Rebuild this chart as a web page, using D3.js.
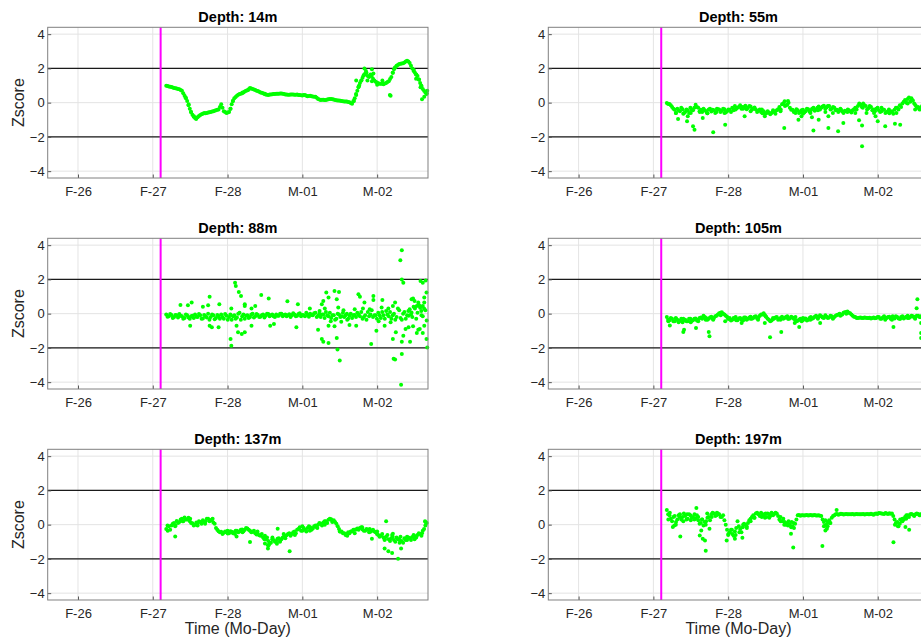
<!DOCTYPE html>
<html>
<head>
<meta charset="utf-8">
<script src="https://cdn.jsdelivr.net/npm/d3@7"></script>
<style>
  body { margin: 0; background: #fff; }
  text { font-family: "Liberation Sans", Arial, sans-serif; }
</style>
</head>
<body>
<div id="main"></div>
<script>
const W = 921, H = 644;

// x axis: days after F-26
const tickDays = [0, 1, 2, 3, 4];
const tickLabels = ['F-26', 'F-27', 'F-28', 'M-01', 'M-02'];
const yTicks = [-4, -2, 0, 2, 4];
const limits = [-2, 2];
const eventDay = 1.105;

// regular sampling of each record; "b" arrays are the samples in between
const t0 = 1.18, dt = 0.035;

const z14 = [0.98,0.95,0.92,0.86,0.82,0.78,0.7,0.4,0.1,-0.35,
  -0.7,-0.9,-0.85,-0.72,-0.65,-0.62,-0.58,-0.55,-0.5,-0.45,
  -0.4,-0.1,-0.5,-0.6,-0.55,-0.1,0.25,0.4,0.5,0.55,
  0.65,0.72,0.85,0.8,0.74,0.68,0.6,0.55,0.48,0.45,
  0.48,0.5,0.52,0.52,0.54,0.5,0.47,0.46,0.48,0.46,
  0.47,0.44,0.42,0.45,0.38,0.4,0.36,0.35,0.22,0.16,
  0.17,0.15,0.2,0.22,0.18,0.14,0.12,0.1,0.07,0.06,
  0.03,-0.06,0.25,0.7,1.15,1.45,1.7,1.55,1.65,1.4,
  1.22,1.13,1.1,1.08,1.15,1.25,1.5,1.95,2.15,2.25,
  2.28,2.35,2.45,2.32,2.0,1.75,1.55,1.15,0.8,0.6];
const z14b = [0.97,0.93,0.88,0.84,0.8,0.74,0.55,0.25,-0.15,-0.55,
  -0.82,-0.88,-0.78,-0.68,-0.6,-0.6,-0.56,-0.52,-0.48,-0.42,
  -0.25,-0.3,-0.55,-0.58,-0.35,0.1,0.33,0.46,0.52,0.6,
  0.7,0.78,0.82,0.77,0.7,0.64,0.58,0.5,0.46,0.47,
  0.49,0.51,0.52,0.53,0.52,0.48,0.46,0.47,0.47,0.46,
  0.45,0.43,0.44,0.41,0.39,0.38,0.35,0.28,0.18,0.17,
  0.16,0.18,0.21,0.2,0.16,0.13,0.11,0.08,0.06,0.04,
  -0.02,0.1,0.5,0.95,1.3,1.6,1.75,1.5,1.55,1.3,
  1.18,1.1,1.1,1.12,1.2,1.38,1.75,2.05,2.2,2.27,
  2.3,2.4,2.4,2.15,1.85,1.65,1.35,0.95,0.7,0.55];
const e14 = [[1.44,0.3],[1.48,-0.1],[1.51,-0.55],[1.55,-0.8],[1.58,-0.95],[2.04,-0.35],[2.07,0.1],
  [2.28,0.75],[2.2,0.6],[2.5,0.52],[3.69,0.1],[3.72,0.45],[3.72,1.3],[3.75,0.9],[3.76,1.0],[3.79,1.3],
  [3.82,1.6],[3.83,2.0],[3.85,1.85],[3.87,1.3],[3.93,1.95],[3.93,1.25],[3.95,1.7],[4.0,1.05],
  [4.07,1.3],[4.17,0.45],[4.18,0.4],[4.21,1.75],[4.24,2.05],[4.49,1.9],[4.52,1.4],[4.52,1.65],
  [4.56,1.35],[4.58,0.9],[4.59,1.0],[4.6,0.2],[4.63,0.35],[4.66,0.5],[4.67,0.7]];

const z55 = [-0.02,-0.08,-0.25,-0.42,-0.35,-0.5,-0.38,-0.55,-0.45,-0.3,
  -0.45,-0.12,-0.3,-0.42,-0.35,-0.5,-0.4,-0.52,-0.45,-0.55,
  -0.4,-0.48,-0.38,-0.5,-0.42,-0.3,-0.2,-0.3,-0.15,-0.25,
  -0.18,-0.3,-0.22,-0.35,-0.4,-0.48,-0.55,-0.5,-0.62,-0.58,
  -0.6,-0.52,-0.45,-0.25,-0.1,0.08,-0.12,-0.3,-0.42,-0.5,
  -0.45,-0.55,-0.42,-0.5,-0.38,-0.45,-0.3,-0.4,-0.22,-0.3,
  -0.18,-0.28,-0.2,-0.35,-0.3,-0.42,-0.45,-0.52,-0.48,-0.55,
  -0.5,-0.45,-0.3,-0.2,-0.12,-0.05,-0.2,-0.32,-0.25,-0.4,
  -0.35,-0.45,-0.5,-0.42,-0.55,-0.62,-0.5,-0.42,-0.3,-0.15,
  -0.05,0.15,0.22,0.05,0.12,-0.15,-0.25,-0.3,-0.35,-0.3];
const z55b = [-0.08,-0.15,-0.35,-0.6,-0.45,-0.3,-0.62,-0.4,-0.6,-0.42,
  -0.3,-0.25,-0.5,-0.55,-0.45,-0.62,-0.35,-0.42,-0.6,-0.38,
  -0.55,-0.35,-0.58,-0.4,-0.55,-0.45,-0.32,-0.25,-0.35,-0.28,
  -0.38,-0.2,-0.4,-0.28,-0.55,-0.4,-0.62,-0.65,-0.5,-0.68,
  -0.55,-0.65,-0.38,-0.4,-0.05,-0.15,0.0,-0.42,-0.55,-0.38,
  -0.6,-0.45,-0.58,-0.35,-0.52,-0.35,-0.48,-0.3,-0.4,-0.22,
  -0.35,-0.2,-0.4,-0.25,-0.45,-0.55,-0.4,-0.6,-0.5,-0.45,
  -0.58,-0.38,-0.4,-0.05,-0.25,-0.15,-0.4,-0.2,-0.45,-0.5,
  -0.3,-0.55,-0.4,-0.6,-0.5,-0.55,-0.65,-0.3,-0.4,-0.25,
  0.05,0.0,0.3,0.18,-0.05,-0.3,-0.4,-0.2,-0.45,-0.38];
const e55 = [[1.33,-0.96],[1.45,-1.09],[1.53,-1.38],[1.55,-1.58],[1.8,-1.73],[1.96,-1.29],[1.66,-0.9],
  [2.75,-1.48],[2.94,-1.0],[3.14,-1.63],[3.21,-1.0],[3.34,-1.48],[3.47,-1.67],[3.54,-1.19],[3.75,-1.03],
  [3.79,-1.34],[3.79,-2.54],[4.0,-1.09],[4.1,-1.38],[4.23,-1.23],[4.3,-1.29],[3.97,-0.8],[1.46,-0.8],
  [2.22,-0.8],[2.49,-0.8],[2.98,-0.8],[3.12,-0.85],[3.34,-0.8],
  [1.3,-0.6],[1.4,-0.65],[1.5,-0.6],[1.62,-0.55],[1.72,-0.62],[1.85,-0.35],[1.95,-0.6],[2.1,-0.4],
  [2.2,-0.35],[2.3,-0.5],[2.45,-0.4],[2.6,-0.45],[2.7,-0.5],[2.76,-0.2],[2.8,0.1],[2.9,-0.6],
  [3.0,-0.65],[3.1,-0.6],[3.2,-0.45],[3.3,-0.55],[3.4,-0.6],[3.5,-0.35],[3.6,-0.4],[3.7,-0.6],
  [3.8,-0.3],[3.85,-0.6],[3.95,-0.6],[4.05,-0.3],[4.15,-0.4],[4.25,-0.6],[4.4,-0.05],[4.45,0.25],[4.5,-0.4]];

const z88 = [-0.05,-0.15,-0.08,-0.2,-0.1,-0.02,-0.15,-0.25,-0.1,-0.3,
  -0.12,-0.05,-0.2,-0.1,-0.28,-0.15,0.0,-0.2,-0.1,-0.25,
  -0.15,-0.05,-0.3,-0.12,-0.2,-0.35,-0.1,-0.22,0.05,-0.15,
  -0.3,-0.1,-0.2,0.0,-0.15,-0.08,-0.18,-0.05,-0.12,-0.02,
  -0.1,-0.15,-0.05,-0.12,0.0,-0.08,-0.15,-0.03,-0.1,-0.05,
  -0.12,0.02,-0.08,-0.15,-0.05,0.0,-0.1,0.05,-0.12,-0.2,
  -0.05,0.1,-0.15,-0.25,-0.1,-0.3,-0.05,-0.15,-0.2,0.0,
  -0.12,-0.25,-0.08,0.05,-0.15,-0.3,-0.1,0.1,-0.05,-0.2,
  -0.1,0.05,-0.25,-0.1,0.15,-0.15,-0.3,0.0,-0.2,0.2,
  -0.35,0.1,-0.1,0.25,-0.2,0.3,0.05,0.35,-0.15,0.2];
const z88b = [-0.18,-0.02,-0.25,-0.08,-0.22,-0.12,-0.3,-0.05,-0.22,-0.15,
  -0.25,-0.18,-0.02,-0.3,-0.08,-0.22,-0.35,-0.05,-0.32,-0.08,
  -0.3,-0.2,-0.02,-0.35,-0.05,-0.15,-0.3,0.0,-0.35,-0.05,
  -0.12,-0.25,-0.05,-0.22,-0.02,-0.2,-0.1,-0.22,0.0,-0.15,
  -0.05,-0.2,-0.12,0.0,-0.15,-0.05,-0.1,-0.2,0.02,-0.15,
  -0.02,-0.15,-0.1,0.05,-0.18,-0.08,0.02,-0.2,0.0,-0.05,
  -0.25,-0.1,0.05,-0.1,-0.35,0.0,-0.2,0.05,-0.1,-0.3,
  0.0,-0.1,-0.2,-0.05,0.1,-0.2,-0.35,-0.15,0.2,-0.1,
  -0.3,-0.1,0.1,-0.3,-0.05,0.1,-0.1,-0.35,0.3,-0.25,
  0.0,-0.3,0.15,-0.05,0.4,-0.3,0.5,-0.1,0.3,-0.4];
const e88 = [[1.37,0.51],[1.47,0.49],[1.52,0.65],[1.76,0.99],[1.74,0.49],[1.67,0.41],[1.89,0.55],
  [1.79,-0.8],[1.88,-0.8],[1.76,-0.7],[1.5,-0.7],[2.04,-1.48],[2.05,-1.87],[2.1,1.81],[2.11,1.61],
  [2.15,1.27],[2.18,1.03],[2.23,0.55],[2.23,0.45],[2.14,-1.09],[2.19,-1.19],[2.23,-1.09],[2.12,-0.7],
  [2.32,0.3],[2.45,1.09],[2.55,0.88],[2.37,0.45],[2.57,-0.7],[2.62,-0.6],[2.8,0.72],[2.94,0.55],
  [2.92,-0.8],[3.1,0.3],[3.23,0.16],[3.26,0.55],[3.28,0.74],[3.32,1.23],[3.35,0.94],[3.43,1.32],
  [3.49,1.27],[3.46,0.84],[3.48,0.36],[3.26,-1.48],[3.28,-1.64],[3.35,-1.71],[3.46,-1.42],[3.47,-2.1],
  [3.5,-2.73],[3.21,-0.94],[3.35,-0.7],[3.43,-0.74],[3.52,-0.47],[3.63,-0.67],[3.75,1.13],[3.77,0.99],
  [3.83,0.65],[3.95,1.03],[3.95,0.8],[4.07,0.8],[4.06,0.36],[3.92,-1.77],[3.72,-0.7],[3.99,-1.0],
  [4.1,-0.7],[4.21,0.45],[4.24,0.65],[4.21,-1.48],[4.22,-2.64],[4.24,-2.68],[4.25,-1.09],[4.33,3.7],
  [4.31,3.12],[4.33,2.0],[4.35,1.81],[4.33,-2.35],[4.32,-4.15],[4.33,-1.64],[4.35,-1.29],[4.38,-0.9],
  [4.42,-0.8],[4.44,-1.64],[4.46,0.84],[4.48,0.88],[4.5,0.74],[4.55,0.65],[4.58,1.9],[4.61,1.81],
  [4.65,1.94],[4.66,1.23],[4.63,0.94],[4.61,0.45],[4.59,0.16],[4.57,-0.9],[4.61,-1.13],[4.63,-0.7],
  [4.66,-1.48],[4.67,-1.97],[4.53,-1.13],[4.55,-0.94],[4.48,-0.74],[4.42,-0.12],[4.46,0.07],[4.53,0.45],
  [4.57,0.45],[4.63,0.65],[2.05,0.3],[2.32,-0.7],[3.7,0.26],[3.81,0.3],
  [3.3,0.3],[3.38,-0.45],[3.55,0.2],[3.6,-0.35],[3.9,0.25],[4.02,-0.45],[4.15,0.3],[4.18,-0.5]];

const z105 = [-0.2,-0.38,-0.3,-0.45,-0.35,-0.42,-0.5,-0.35,-0.45,-0.3,
  -0.38,-0.28,-0.35,-0.22,-0.12,-0.25,-0.3,-0.18,-0.25,-0.12,
  0.02,0.08,-0.05,-0.18,-0.25,-0.35,-0.3,-0.38,-0.25,-0.32,
  -0.22,-0.3,-0.18,-0.25,-0.15,-0.22,-0.05,0.02,-0.2,-0.35,
  -0.4,-0.28,-0.2,-0.3,-0.18,-0.25,-0.15,-0.28,-0.22,-0.35,
  -0.42,-0.3,-0.38,-0.28,-0.35,-0.2,-0.25,-0.12,-0.2,-0.15,
  -0.25,-0.18,-0.22,-0.15,-0.2,-0.08,0.0,-0.05,0.08,0.12,
  0.02,-0.12,-0.2,-0.25,-0.22,-0.25,-0.24,-0.25,-0.28,-0.22,
  -0.25,-0.2,-0.3,-0.15,-0.25,-0.18,-0.35,-0.28,-0.2,-0.3,
  -0.15,-0.22,-0.12,-0.2,-0.15,-0.18,-0.12,-0.15,-0.2,-0.15];
const z105b = [-0.35,-0.25,-0.45,-0.3,-0.5,-0.3,-0.38,-0.45,-0.3,-0.42,
  -0.3,-0.4,-0.25,-0.3,-0.2,-0.35,-0.22,-0.3,-0.15,-0.05,
  0.05,0.0,-0.12,-0.3,-0.4,-0.25,-0.38,-0.28,-0.35,-0.22,
  -0.35,-0.22,-0.3,-0.18,-0.28,-0.12,-0.05,-0.1,-0.3,-0.45,
  -0.32,-0.22,-0.35,-0.25,-0.3,-0.2,-0.3,-0.18,-0.3,-0.45,
  -0.35,-0.45,-0.3,-0.4,-0.25,-0.3,-0.18,-0.22,-0.1,-0.22,
  -0.15,-0.25,-0.12,-0.25,-0.12,-0.05,-0.08,0.05,0.1,0.05,
  -0.05,-0.18,-0.25,-0.24,-0.26,-0.23,-0.26,-0.24,-0.25,-0.27,
  -0.2,-0.3,-0.22,-0.3,-0.2,-0.3,-0.25,-0.15,-0.28,-0.2,
  -0.28,-0.18,-0.25,-0.12,-0.22,-0.12,-0.2,-0.22,-0.12,-0.2];
const e105 = [[1.22,-0.69],[1.4,-1.07],[1.41,-0.94],[1.57,-0.84],[1.74,-1.07],[1.75,-1.32],[1.96,-0.45],
  [2.56,-1.38],[2.71,-1.07],[2.95,-0.78],[3.23,-0.55],[4.21,-0.78],[4.53,0.84],[4.52,0.32],[4.58,-0.55],
  [4.58,-1.13],[4.58,-1.42],[2.18,-0.55],[2.49,-0.55],[2.89,-0.55],
  [1.2,-0.45],[1.3,-0.25],[1.4,-0.3],[1.5,-0.5],[1.6,-0.45],[1.7,-0.35],[1.8,-0.35],[1.9,-0.1],
  [2.0,-0.3],[2.1,-0.2],[2.2,-0.4],[2.3,-0.3],[2.4,-0.35],[2.5,-0.15],[2.6,-0.25],[2.7,-0.35],
  [2.8,-0.3],[2.9,-0.2],[3.0,-0.25],[3.1,-0.35],[3.2,-0.3],[3.3,-0.1],[3.4,-0.3],[3.5,-0.12],
  [3.58,0.0],[4.1,-0.35],[4.2,-0.15],[4.3,-0.3],[4.4,-0.25],[4.5,-0.3]];

const z137 = [-0.25,-0.1,-0.05,0.1,0.22,0.15,0.35,0.42,0.3,0.2,
  0.08,0.0,0.1,0.15,0.25,0.2,0.35,0.25,0.12,-0.2,
  -0.38,-0.42,-0.48,-0.45,-0.5,-0.42,-0.45,-0.35,-0.4,-0.28,
  -0.3,-0.22,-0.35,-0.42,-0.5,-0.55,-0.65,-0.75,-0.85,-0.95,
  -1.05,-0.9,-0.95,-0.8,-0.85,-0.7,-0.62,-0.5,-0.55,-0.4,
  -0.3,-0.15,-0.35,-0.3,-0.2,-0.15,-0.22,-0.05,0.0,0.05,
  0.12,0.2,0.28,0.32,0.25,0.05,-0.25,-0.4,-0.5,-0.55,
  -0.5,-0.38,-0.3,-0.22,-0.2,-0.28,-0.35,-0.3,-0.42,-0.3,
  -0.45,-0.6,-0.65,-0.75,-0.7,-0.85,-0.8,-0.9,-0.75,-0.85,
  -0.95,-0.8,-0.9,-0.78,-0.72,-0.68,-0.6,-0.55,-0.35,-0.05];
const z137b = [-0.05,-0.3,0.05,-0.05,0.1,0.3,0.2,0.3,0.4,0.1,
  -0.05,0.12,0.2,0.05,0.15,0.35,0.2,0.3,0.05,-0.3,
  -0.45,-0.55,-0.4,-0.52,-0.38,-0.5,-0.35,-0.45,-0.3,-0.38,
  -0.2,-0.3,-0.45,-0.35,-0.58,-0.62,-0.55,-0.85,-0.75,-1.1,
  -0.85,-1.0,-0.82,-0.95,-0.75,-0.8,-0.55,-0.65,-0.45,-0.5,
  -0.25,-0.35,-0.2,-0.4,-0.1,-0.3,-0.1,-0.15,0.1,-0.05,
  0.2,0.1,0.35,0.2,0.15,-0.1,-0.4,-0.5,-0.6,-0.45,
  -0.4,-0.3,-0.28,-0.3,-0.15,-0.35,-0.25,-0.45,-0.35,-0.4,
  -0.55,-0.7,-0.55,-0.85,-0.6,-0.95,-0.7,-1.0,-0.85,-0.7,
  -1.05,-0.9,-0.75,-0.9,-0.6,-0.75,-0.5,-0.65,-0.25,0.1];
const e137 = [[1.3,-0.69],[2.3,-1.01],[2.12,-0.69],[2.54,-1.4],[2.67,-0.24],[2.83,-1.55],[4.12,0.2],
  [4.1,-1.4],[4.15,-1.55],[4.2,-1.66],[4.28,-1.99],[4.21,-0.53],[4.32,-1.4],[3.93,-0.82],[4.65,0.14],
  [4.64,0.2],[2.54,-1.2],[2.66,-1.11],[2.5,-1.1],
  [1.2,-0.35],[1.3,-0.1],[1.4,0.2],[1.5,0.35],[1.6,-0.05],[1.7,0.05],[1.8,0.35],[2.0,-0.35],
  [2.1,-0.55],[2.2,-0.45],[2.4,-0.4],[2.5,-0.65],[2.55,-1.2],[2.6,-0.75],[2.7,-1.0],[2.75,-0.55],
  [2.9,-0.6],[3.0,-0.1],[3.1,-0.35],[3.2,-0.2],[3.3,0.0],[3.4,0.15],[3.5,-0.4],[3.6,-0.65],
  [3.7,-0.5],[3.8,-0.15],[3.9,-0.25],[4.0,-0.4],[4.1,-0.9],[4.2,-0.6],[4.3,-1.05],[4.4,-0.7],
  [4.5,-0.85],[4.6,-0.5]];

const z197 = [0.85,0.55,0.2,0.5,0.3,0.6,0.45,0.5,0.35,0.55,
  0.45,0.38,0.25,0.1,-0.05,0.2,0.45,0.6,0.65,0.55,
  0.6,0.45,0.25,-0.3,-0.45,-0.55,-0.4,0.2,-0.25,-0.15,
  0.0,0.1,0.35,0.55,0.65,0.6,0.7,0.55,0.45,0.6,
  0.7,0.62,0.65,0.3,0.2,0.15,0.1,0.0,-0.1,0.05,
  0.55,0.52,0.55,0.55,0.54,0.56,0.55,0.53,0.55,0.5,
  0.15,0.0,0.25,0.4,0.55,0.62,0.6,0.62,0.6,0.61,
  0.6,0.62,0.6,0.61,0.6,0.62,0.6,0.61,0.63,0.58,
  0.65,0.68,0.65,0.62,0.65,0.67,0.65,0.3,0.15,0.05,
  0.35,0.45,0.55,0.6,0.58,0.6,0.62,0.6,0.58,0.6];
const z197b = [0.6,0.35,0.45,0.15,0.55,0.3,0.65,0.3,0.6,0.4,
  0.3,0.55,0.05,0.3,0.15,0.4,0.25,0.7,0.5,0.65,
  0.45,0.55,0.0,-0.55,-0.3,-0.65,-0.2,-0.1,-0.45,0.05,
  -0.1,0.25,0.45,0.4,0.7,0.5,0.62,0.4,0.65,0.5,
  0.6,0.7,0.5,0.2,0.35,0.0,0.2,-0.15,0.1,0.3,
  0.56,0.55,0.53,0.56,0.55,0.53,0.56,0.54,0.52,0.3,
  -0.05,0.15,0.1,0.5,0.6,0.58,0.63,0.59,0.62,0.6,
  0.61,0.59,0.62,0.6,0.61,0.59,0.62,0.6,0.6,0.64,
  0.62,0.66,0.63,0.68,0.62,0.64,0.5,0.1,-0.1,0.25,
  0.3,0.55,0.45,0.62,0.5,0.65,0.55,0.62,0.5,0.62];
const e197 = [[1.36,-0.69],[1.575,0.97],[1.62,-0.63],[1.66,-0.82],[1.69,-0.92],[1.7,-1.53],[1.64,-0.34],
  [1.75,-0.24],[1.98,-0.92],[2.09,-0.82],[2.19,-0.76],[2.87,-1.34],[2.84,-0.53],[3.26,-1.24],[3.3,-0.34],
  [3.32,-0.24],[4.21,-1.03],[4.42,-0.3],[4.37,-0.14],[3.45,0.86],[1.28,-0.05],[1.26,-0.14],
  [1.2,0.3],[1.22,0.7],[1.3,0.0],[1.35,0.45],[1.4,0.2],[1.45,0.6],[1.5,0.25],[1.55,0.6],
  [1.6,0.45],[1.65,0.3],[1.7,0.0],[1.72,0.65],[1.78,0.45],[1.85,0.7],[2.0,-0.6],[2.05,-0.3],
  [2.1,-0.6],[2.15,-0.45],[2.2,0.0],[2.25,-0.2],[2.3,0.2],[2.35,0.4],[2.45,0.45],[2.5,0.65],
  [2.55,0.4],[2.6,0.55],[2.7,0.45],[2.75,0.0],[2.8,-0.05],[2.85,0.15],[2.88,-0.2],[3.28,-0.1],
  [3.3,0.25],[3.33,-0.1],[3.36,0.1],[4.23,0.0],[4.27,-0.1],[4.3,0.3],[4.33,0.2],[4.38,0.35]];

const depths = [14, 55, 88, 105, 137, 197];
const series = [z14, z55, z88, z105, z137, z197];
const seriesB = [z14b, z55b, z88b, z105b, z137b, z197b];
const extras = [e14, e55, e88, e105, e137, e197];

// layout (the figure is cropped on the right)
const colX = [47.7, 548.3], rowY = [27.3, 238.3, 449.3];
const pw = 380.3, ph = 150.7;

const svg = d3.select('#main')
  .append('svg')
  .attr('width', W)
  .attr('height', H);

const x = d3.scaleLinear().domain([-0.405, 4.68]).range([0, pw]);
const y = d3.scaleLinear().domain([-4.4, 4.4]).range([ph, 0]);

depths.forEach((depth, k) => {
  const col = k % 2, row = Math.floor(k / 2);
  const g = svg.append('g')
    .attr('transform', `translate(${colX[col]},${rowY[row]})`);

  // grid
  g.selectAll('.gx').data(tickDays).enter().append('line')
    .attr('x1', d => x(d)).attr('x2', d => x(d))
    .attr('y1', 0).attr('y2', ph)
    .attr('stroke', '#e4e4e4');
  g.selectAll('.gy').data(yTicks).enter().append('line')
    .attr('x1', 0).attr('x2', pw)
    .attr('y1', d => y(d)).attr('y2', d => y(d))
    .attr('stroke', '#e4e4e4');

  // +/-2 limits
  g.selectAll('.lim').data(limits).enter().append('line')
    .attr('x1', 0).attr('x2', pw)
    .attr('y1', d => y(d)).attr('y2', d => y(d))
    .attr('stroke', '#1a1a1a')
    .attr('stroke-width', 1.3);

  // event line
  g.append('line')
    .attr('x1', x(eventDay)).attr('x2', x(eventDay))
    .attr('y1', 0).attr('y2', ph)
    .attr('stroke', '#ff00ff')
    .attr('stroke-width', 2);

  // data
  const pts = series[k].map((v, i) => [t0 + i * dt, v])
    .concat(seriesB[k].map((v, i) => [t0 + dt / 2 + i * dt, v]))
    .concat(extras[k]);
  g.selectAll('.pt').data(pts).enter().append('circle')
    .attr('cx', d => x(d[0]))
    .attr('cy', d => y(d[1]))
    .attr('r', 2)
    .attr('fill', '#00ff00');

  // axes, ticks pointing inward like matlab
  const xAxis = d3.axisBottom(x).tickValues(tickDays)
    .tickFormat((d, i) => tickLabels[i]).tickSizeInner(-3.5).tickSizeOuter(0).tickPadding(9);
  const yAxis = d3.axisLeft(y).tickValues(yTicks)
    .tickSizeInner(-3.5).tickSizeOuter(0).tickPadding(3);

  const ax = g.append('g').attr('transform', `translate(0,${ph})`).call(xAxis);
  const ay = g.append('g').call(yAxis);
  [ax, ay].forEach(a => {
    a.select('.domain').remove();
    a.selectAll('line').attr('stroke', '#555');
    a.selectAll('text').attr('fill', '#262626').style('font-size', '13px');
  });

  g.append('rect')
    .attr('width', pw).attr('height', ph)
    .attr('fill', 'none')
    .attr('stroke', '#808080');

  g.append('text')
    .text('Depth: ' + depth + 'm')
    .attr('x', pw / 2).attr('y', -5.5)
    .attr('text-anchor', 'middle')
    .style('font-size', '14.5px')
    .style('font-weight', 'bold');

  if (col === 0) {
    g.append('text')
      .text('Zscore')
      .attr('transform', `translate(-23.5,${ph / 2}) rotate(-90)`)
      .attr('text-anchor', 'middle')
      .attr('fill', '#262626')
      .style('font-size', '16px');
  }
  if (row === 2) {
    g.append('text')
      .text('Time (Mo-Day)')
      .attr('x', pw / 2).attr('y', ph + 34)
      .attr('text-anchor', 'middle')
      .attr('fill', '#262626')
      .style('font-size', '16px');
  }
});
</script>
</body>
</html>
